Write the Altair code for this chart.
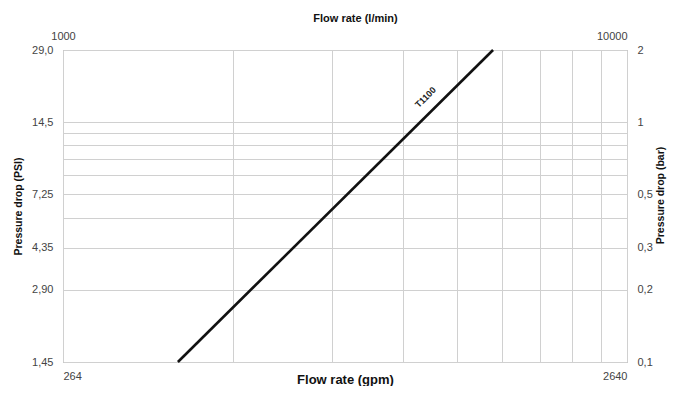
import altair as alt
import pandas as pd

# ---- data ----
flow_gpm = [422, 1528]          # T1100 line, flow in gpm
dp_bar = [0.1, 2.0]             # pressure drop in bar
series_name = ["T1100", "T1100"]

label_gpm = [1160]
label_bar = [1.27]
label_text = ["T1100"]

grid_gpm = [264, 528, 792, 1056, 1320, 1584, 1848, 2112, 2376, 2640]
grid_bar = [0.1, 0.2, 0.3, 0.4, 0.5, 0.6, 0.7, 0.8, 0.9, 1.0, 2.0]

bar_ticks = [0.1, 0.2, 0.3, 0.5, 1.0, 2.0]
psi_text = ["1,45", "2,90", "4,35", "7,25", "14,5", "29,0"]
bar_text = ["0,1", "0,2", "0,3", "0,5", "1", "2"]

gpm_ends = [264, 2640]
gpm_text = ["264", "2640"]
lpm_text = ["1000", "10000"]


def label_expr(values, texts):
    expr = "''"
    for v, t in reversed(list(zip(values, texts))):
        expr = f"datum.value == {v} ? '{t}' : ({expr})"
    return expr


line_df = pd.DataFrame({"gpm": flow_gpm, "bar": dp_bar, "series": series_name})
text_df = pd.DataFrame({"gpm": label_gpm, "bar": label_bar, "txt": label_text})

FONT = "Liberation Sans"
LABEL_COLOR = "#444444"

xscale = alt.Scale(type="log", domain=[264, 2640], nice=False)
yscale = alt.Scale(type="log", domain=[0.1, 2], nice=False)

line = alt.Chart(line_df).mark_line(color="#111111", strokeWidth=2.6).encode(
    x=alt.X("gpm:Q", scale=xscale,
            axis=alt.Axis(orient="bottom", values=grid_gpm,
                          labelExpr=label_expr(gpm_ends, gpm_text),
                          title="Flow rate (gpm)", titleFontSize=13,
                          titleFontWeight="bold", titleColor="#111",
                          titleX=282, titleY=21, titleBaseline="alphabetic",
                          labelPadding=8, grid=True, ticks=False,
                          domain=False)),
    y=alt.Y("bar:Q", scale=yscale,
            axis=alt.Axis(orient="left", values=grid_bar,
                          labelExpr=label_expr(bar_ticks, psi_text),
                          title="Pressure drop (PSI)", titleFontSize=10.5,
                          titleFontWeight="bold", titleColor="#111",
                          titleX=-45, titleY=156, titleAngle=270,
                          titleBaseline="middle",
                          labelPadding=10, grid=True, ticks=False,
                          domain=False)),
)

text = alt.Chart(text_df).mark_text(
    angle=315, fontSize=9, font=FONT, color="#222", fontWeight="bold"
).encode(
    x=alt.X("gpm:Q", scale=xscale,
            axis=alt.Axis(orient="top", values=gpm_ends,
                          labelExpr=label_expr(gpm_ends, lpm_text),
                          labelAlign={"condition": {"test": "datum.value > 1000", "value": "right"},
                                      "value": "center"},
                          title="Flow rate (l/min)", titleFontSize=11,
                          titleFontWeight="bold", titleColor="#111",
                          titleX=292, titleY=-32, titleBaseline="middle",
                          labelPadding=9, grid=False, ticks=False,
                          domain=False)),
    y=alt.Y("bar:Q", scale=yscale,
            axis=alt.Axis(orient="right", values=bar_ticks,
                          labelExpr=label_expr(bar_ticks, bar_text),
                          title="Pressure drop (bar)", titleFontSize=10.5,
                          titleFontWeight="bold", titleColor="#111",
                          titleX=33, titleY=145, titleAngle=270,
                          titleBaseline="middle",
                          labelPadding=10, grid=False, ticks=False,
                          domain=False)),
    text="txt:N",
)

chart = (
    alt.layer(line, text)
    .resolve_axis(x="independent", y="independent")
    .properties(
        width=564, height=312,
        autosize=alt.AutoSizeParams(type="none"),
        padding={"left": 55, "top": 42, "right": 40, "bottom": 24},
        background="white",
    )
    .configure_view(stroke="#9a9a9a", strokeWidth=1)
    .configure_axis(
        labelFont=FONT, titleFont=FONT, labelFontSize=11,
        labelColor=LABEL_COLOR, gridColor="#d0d0d0", gridWidth=1,
    )
)

chart.save("out.html", embed_options={"renderer": "svg", "actions": False})
